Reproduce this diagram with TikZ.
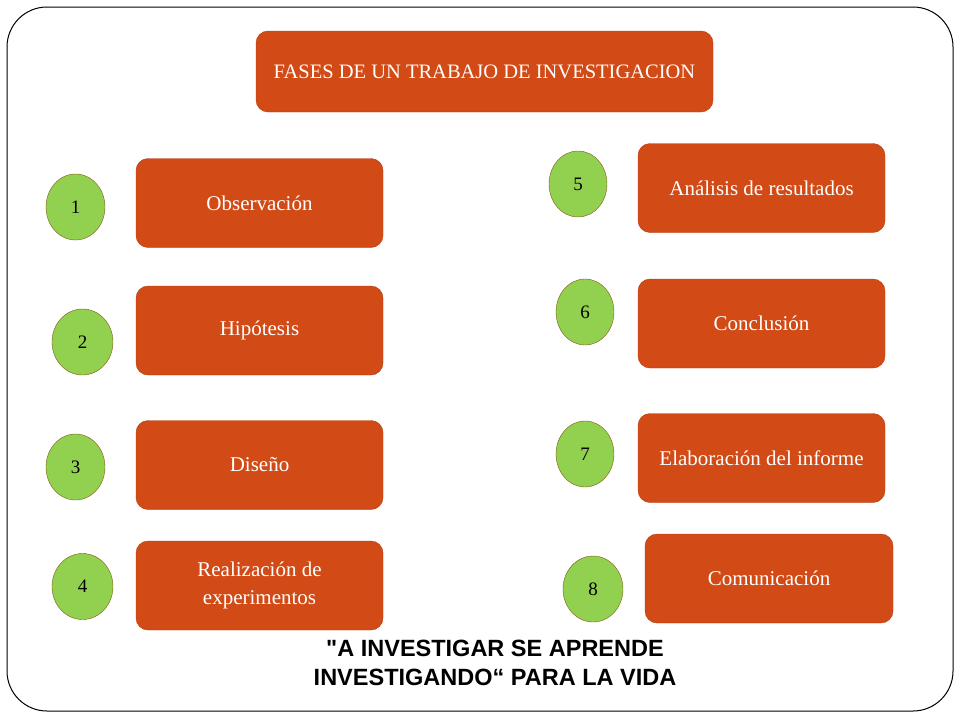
\documentclass[tikz,border=0pt]{standalone}
\usepackage{fontspec}
\usetikzlibrary{shapes.geometric}
\setmainfont{Liberation Serif}
\newfontfamily\boldsans{Liberation Sans}
\definecolor{boxorange}{RGB}{210,74,22}
\definecolor{boxedge}{RGB}{180,60,15}
\definecolor{numgreen}{RGB}{146,208,80}
\definecolor{numedge}{RGB}{128,90,20}
\begin{document}
\begin{tikzpicture}[x=1pt,y=-1pt,
  phase/.style={draw=boxedge,fill=boxorange,rounded corners=12pt,text=white,
    font=\fontsize{21}{28}\selectfont,align=center,minimum width=247pt,minimum height=89pt,inner sep=0pt},
  num/.style={ellipse,draw=numedge,fill=numgreen,minimum width=59pt,minimum height=66pt,
    font=\fontsize{19}{22}\selectfont,inner sep=0pt}]
\useasboundingbox (0,0) rectangle (960,720);
\draw[line width=1pt,rounded corners=40pt] (7,7) rectangle (953,711);
\node[phase,minimum width=457pt,minimum height=81pt,font=\fontsize{20.5}{26}\selectfont] (title) at (484.5,71.5) {FASES DE UN TRABAJO DE INVESTIGACION};
\node[phase] (p1) at (259.5,203) {Observación};
\node[phase] (p2) at (259.5,330.5) {Hipótesis};
\node[phase] (p3) at (259.5,465) {Diseño};
\node[phase] (p4) at (259.5,585.5) {Realización de\\experimentos};
\node[phase] (p5) at (761.5,188) {Análisis de resultados};
\node[phase] (p6) at (761.5,323.5) {Conclusión};
\node[phase] (p7) at (761.5,458) {Elaboración del informe};
\node[phase,minimum width=248pt] (p8) at (769,578.5) {Comunicación};
\node[num] (n1) at (75.5,207) {1};
\node[num,minimum width=61pt] (n2) at (82.5,342) {2};
\node[num] (n3) at (75.5,467) {3};
\node[num,minimum width=61pt] (n4) at (82.5,586.5) {4};
\node[num,minimum width=58pt] (n5) at (578,184) {5};
\node[num,minimum width=58pt] (n6) at (585,312) {6};
\node[num,minimum width=58pt] (n7) at (585,454) {7};
\node[num,minimum width=60pt] (n8) at (593,589) {8};
\node[font=\boldsans\bfseries\fontsize{23.5}{29}\selectfont,align=center] (motto) at (495,662.5)
  {"A INVESTIGAR SE APRENDE\\INVESTIGANDO“ PARA LA VIDA};
\end{tikzpicture}
\end{document}
